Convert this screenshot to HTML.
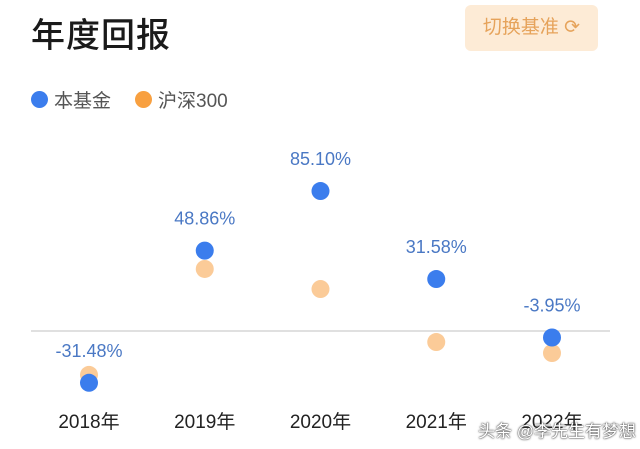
<!DOCTYPE html>
<html><head><meta charset="utf-8"><style>
body{margin:0;width:640px;height:449px;background:#fff;overflow:hidden;font-family:"Liberation Sans","Noto Sans CJK SC",sans-serif;position:relative}
.t{position:absolute;left:31px;top:8px;font-size:34px;font-weight:500;color:#1a1a1a;letter-spacing:1px}
.btn{position:absolute;left:465px;top:5px;width:133px;height:46px;background:#fdebd6;border-radius:6px;color:#e6a35b;font-size:19px;line-height:46px;text-align:center}
.lg{position:absolute;top:86px;font-size:19px;color:#555;display:flex;align-items:center}
.dot{width:17px;height:17px;border-radius:50%;display:inline-block;margin-right:6px}
.wm{position:absolute;left:478px;top:417px;font-size:17px;color:#fff;text-shadow:0 0 2px #333,0 0 1px #333}
</style></head><body>
<div class="t">年度回报</div>
<div class="btn">切换基准 ⟳</div>
<div class="lg" style="left:31px"><span class="dot" style="background:#3b7ded"></span>本基金</div>
<div class="lg" style="left:135px"><span class="dot" style="background:#f8a040"></span>沪深300</div>
<svg id="c" width="640" height="449" style="position:absolute;left:0;top:0"></svg>
<div class="wm">头条 @李先生有梦想</div>
<script>
const categories=["2018年","2019年","2020年","2021年","2022年"];
const fundValues=[-31.48,48.86,85.10,31.58,-3.95];
const fundLabels=["-31.48%","48.86%","85.10%","31.58%","-3.95%"];
const benchValues=[-26.7,37.7,25.5,-6.7,-13.4];
const ns="http://www.w3.org/2000/svg";
const svg=document.getElementById('c');
const x=i=>89+i*115.75;
const y=v=>331-v*1.645;
function mk(t,a){const e=document.createElementNS(ns,t);for(const k in a)e.setAttribute(k,a[k]);svg.appendChild(e);return e;}
const zl=mk('line',{x1:31,x2:610,y1:y(0),y2:y(0),stroke:'#d6d6d6','stroke-width':1.5});


categories.forEach((c,i)=>{
  const b=mk('circle',{cx:x(i),cy:y(benchValues[i]),r:9,fill:'#fbcb98'});
  
  
  const f=mk('circle',{cx:x(i),cy:y(fundValues[i]),r:9,fill:'#3b7ded'});
  
  
  const l=mk('text',{x:x(i),y:y(fundValues[i])-26,'text-anchor':'middle','font-size':18,fill:'#4a78c4'});
  l.textContent=fundLabels[i];
  
  
  const t=mk('text',{x:x(i),y:428,'text-anchor':'middle','font-size':19,fill:'#222'});
  t.textContent=c;
  
  
});
</script>
</body></html>
